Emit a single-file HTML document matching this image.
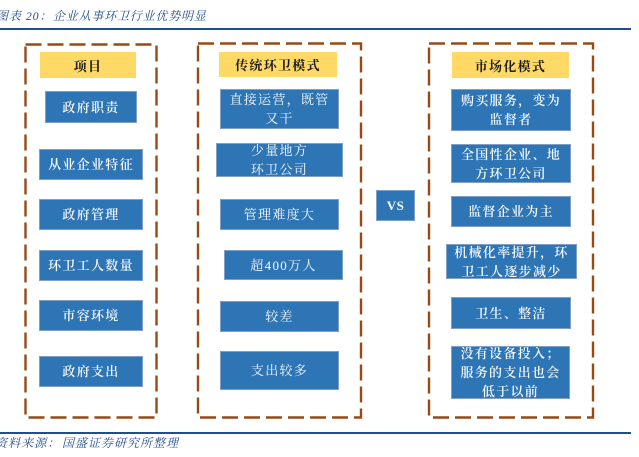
<!DOCTYPE html>
<html lang="zh">
<head>
<meta charset="utf-8">
<style>
html,body{margin:0;padding:0;background:#fff}
#c{position:relative;width:639px;height:457px;overflow:hidden;background:#fff;font-family:"Liberation Serif","Noto Serif CJK SC",serif;filter:blur(.3px)}
.b,.y{position:absolute;display:flex;align-items:center;justify-content:center;text-align:center;box-sizing:border-box;overflow:hidden;white-space:nowrap}
.b{background:#2e75b6;border:1px solid #7f9fc6;color:#f7fafd;font-size:13px;letter-spacing:1.3px;line-height:19px;font-weight:600}
.y{background:#ffd966;color:#1c1c1c;font-size:13px;letter-spacing:1.3px;font-weight:700}
.t{position:absolute;color:#24508f;font-style:italic;font-size:12px;white-space:nowrap}
.l{position:absolute;left:0;width:631px;background:#1f4e8f}
svg{position:absolute;left:0;top:0}
</style>
</head>
<body>
<div id="c">
<div class="t" style="left:-4px;top:7px;letter-spacing:.9px">图表 20&#xFF1A;</div>
<div class="t" style="left:53px;top:7px;letter-spacing:.8px">企业从事环卫行业优势明显</div>
<div class="l" style="top:28px;height:2px"></div>
<svg width="639" height="457">
<g fill="none" stroke="#964b16" stroke-width="2.4" stroke-dasharray="16 6">
<rect x="25.5" y="44.5" width="131" height="373"/>
<rect x="198" y="43.5" width="163" height="374"/>
<rect x="429" y="43.5" width="164" height="374"/>
</g>
</svg>

<div class="y" style="left:40px;top:52px;width:96px;height:26px">项目</div>
<div class="b" style="left:45px;top:91px;width:92px;height:32px">政府职责</div>
<div class="b" style="left:39px;top:149px;width:104px;height:31px">从业企业特征</div>
<div class="b" style="left:39px;top:199px;width:104px;height:31px">政府管理</div>
<div class="b" style="left:39px;top:250px;width:104px;height:31px">环卫工人数量</div>
<div class="b" style="left:39px;top:300px;width:104px;height:31px">市容环境</div>
<div class="b" style="left:39px;top:356px;width:104px;height:31px">政府支出</div>

<div class="y" style="left:219px;top:52px;width:118px;height:25px">传统环卫模式</div>
<div class="b" style="left:220px;top:89px;width:119px;height:40px;font-weight:400">直接运营&#xFF0C;既管<br>又干</div>
<div class="b" style="left:216px;top:143px;width:127px;height:34px;font-weight:400">少量地方<br>环卫公司</div>
<div class="b" style="left:220px;top:199px;width:119px;height:31px;font-weight:400">管理难度大</div>
<div class="b" style="left:224px;top:250px;width:119px;height:30px;font-weight:400">超400万人</div>
<div class="b" style="left:220px;top:301px;width:119px;height:31px;font-weight:400">较差</div>
<div class="b" style="left:220px;top:351px;width:119px;height:39px;font-weight:400">支出较多</div>

<div class="b" style="left:376px;top:190px;width:39px;height:31px;font-weight:700;letter-spacing:.5px">VS</div>

<div class="y" style="left:452px;top:52px;width:117px;height:26px">市场化模式</div>
<div class="b" style="left:451px;top:89px;width:120px;height:42px">购买服务&#xFF0C;变为<br>监督者</div>
<div class="b" style="left:451px;top:144px;width:120px;height:39px">全国性企业、地<br>方环卫公司</div>
<div class="b" style="left:451px;top:196px;width:120px;height:31px">监督企业为主</div>
<div class="b" style="left:446px;top:244px;width:131px;height:35px">机械化率提升&#xFF0C;环<br>卫工人逐步减少</div>
<div class="b" style="left:451px;top:297px;width:120px;height:32px">卫生、整洁</div>
<div class="b" style="left:451px;top:346px;width:119px;height:53px">没有设备投入&#xFF1B;<br>服务的支出也会<br>低于以前</div>

<div class="l" style="top:432px;height:2px"></div>
<div class="t" style="left:-5px;top:434px;letter-spacing:1.1px">资料来源&#xFF1A;</div>
<div class="t" style="left:62px;top:434px;letter-spacing:1px">国盛证券研究所整理</div>
</div>
</body>
</html>
